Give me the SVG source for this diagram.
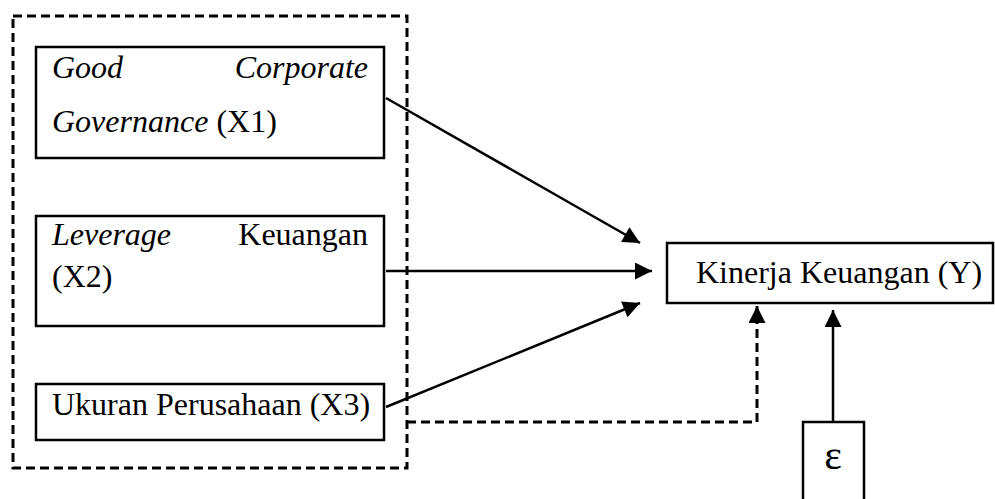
<svg xmlns="http://www.w3.org/2000/svg" width="995" height="499" viewBox="0 0 995 499">
<style>
  .box { fill: #fff; stroke: #000; stroke-width: 2.5; }
  .dash { fill: none; stroke: #000; stroke-width: 3; stroke-dasharray: 9 5; }
  .t { font-family: "Liberation Serif", "Times New Roman", serif; font-size: 32px; fill: #000; }
  .i { font-style: italic; }
  .edge { stroke: #000; stroke-width: 2.5; fill: none; }
</style>
<defs>
  <marker id="ah" viewBox="0 0 10 10" refX="10" refY="5" markerWidth="18" markerHeight="17" markerUnits="userSpaceOnUse" orient="auto">
    <path d="M0,0 L10,5 L0,10 Z" fill="#000"/>
  </marker>
</defs>
<rect id="group-frame" class="dash" x="13" y="16" width="394" height="452"/>
<g id="x1">
  <rect class="box" x="36" y="47" width="348" height="111"/>
  <text class="t i" x="52" y="78">Good</text>
  <text class="t i" x="368" y="78" text-anchor="end">Corporate</text>
  <text class="t" x="52" y="132"><tspan class="i">Governance</tspan> (X1)</text>
</g>
<g id="x2">
  <rect class="box" x="36" y="216" width="348" height="110"/>
  <text class="t i" x="52" y="245">Leverage</text>
  <text class="t" x="368" y="245" text-anchor="end">Keuangan</text>
  <text class="t" x="52" y="287">(X2)</text>
</g>
<g id="x3">
  <rect class="box" x="36" y="384" width="348" height="56"/>
  <text class="t" x="52" y="415">Ukuran Perusahaan (X3)</text>
</g>
<g id="y">
  <rect class="box" x="667" y="243" width="326" height="60"/>
  <text class="t" x="696" y="283">Kinerja Keuangan (Y)</text>
</g>
<g id="e">
  <rect class="box" x="803" y="422" width="61" height="90"/>
  <text class="t" x="833" y="469" text-anchor="middle" style="font-size:42px">ε</text>
</g>
<g id="connectors">
  <line class="edge" x1="386" y1="98" x2="640" y2="243" marker-end="url(#ah)"/>
  <line class="edge" x1="386" y1="271" x2="652" y2="271" marker-end="url(#ah)"/>
  <line class="edge" x1="386" y1="407" x2="640" y2="303" marker-end="url(#ah)"/>
  <path class="dash" d="M407,422 H757 V306" marker-end="url(#ah)"/>
  <line class="edge" x1="833" y1="422" x2="833" y2="310" marker-end="url(#ah)"/>
</g>
</svg>
